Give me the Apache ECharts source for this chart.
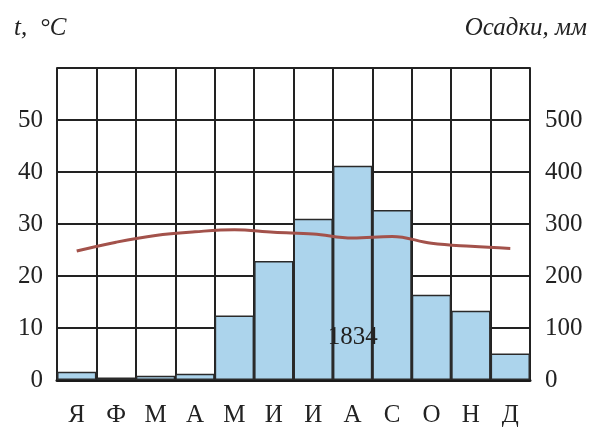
<!DOCTYPE html>
<html><head><meta charset="utf-8">
<script src="https://cdn.jsdelivr.net/npm/echarts@6/dist/echarts.min.js"></script>
<style>html,body{margin:0;padding:0;background:#fff}#c{width:592px;height:428px}</style>
</head><body><div id="c"></div>
<script>
const months = ['Я','Ф','М','А','М','И','И','А','С','О','Н','Д'];
const precip = [16, 5, 8, 12, 124, 229, 310, 412, 327, 164, 133, 51];
const temp = [24.8, 26.5, 27.8, 28.5, 28.9, 28.4, 28.1, 27.3, 27.6, 26.3, 25.7, 25.3];
const annualTotal = '1834';
const tempTicks = [0, 10, 20, 30, 40, 50];
const precipTicks = [0, 100, 200, 300, 400, 500];

const chart = echarts.init(document.getElementById('c'));
const font = '"Liberation Serif", "DejaVu Serif", serif';
chart.setOption({
  animation: false,
  grid: {left: 57, right: 62, top: 68, bottom: 48},
  xAxis: {
    type: 'category', data: months, boundaryGap: true,
    axisLine: {show: true, lineStyle: {color: '#1a1a1a', width: 3}},
    axisTick: {show: false},
    axisLabel: {fontFamily: font, fontSize: 25, color: '#222', margin: 23, interval: 0},
    splitLine: {show: true, interval: 0, lineStyle: {color: '#222', width: 2}}
  },
  yAxis: [{
    type: 'value', min: 0, max: 60, interval: 10,
    axisLine: {show: true, lineStyle: {color: '#222', width: 2}},
    axisTick: {show: false},
    axisLabel: {fontFamily: font, fontSize: 25, color: '#222', margin: 14,
      formatter: v => tempTicks.includes(v) ? String(v) : ''},
    splitLine: {show: true, lineStyle: {color: '#222', width: 2}}
  }, {
    type: 'value', min: 0, max: 600, interval: 100,
    axisLine: {show: true, lineStyle: {color: '#222', width: 2}},
    axisTick: {show: false},
    axisLabel: {fontFamily: font, fontSize: 25, color: '#222', margin: 15,
      formatter: v => precipTicks.includes(v) ? String(v) : ''},
    splitLine: {show: false}
  }],
  graphic: [
    {type: 'text', left: 14, top: 16, style: {text: 't,  °C', font: 'italic 25px ' + font, fill: '#222'}},
    {type: 'text', right: 5, top: 16, style: {text: 'Осадки, мм', font: 'italic 25px ' + font, fill: '#222'}}
  ],
  series: [{
    type: 'bar', yAxisIndex: 1, data: precip, barCategoryGap: '0%',
    itemStyle: {color: '#acd4ec', borderColor: '#2a2a2a', borderWidth: 1.5},
    markPoint: {
      symbol: 'rect', symbolSize: 0,
      label: {show: true, position: 'inside', formatter: annualTotal, fontFamily: font, fontSize: 25, color: '#222'},
      data: [{coord: [7, 82]}]
    }
  }, {
    type: 'line', yAxisIndex: 0, data: temp, smooth: 0.4, symbol: 'none',
    lineStyle: {color: '#a3524b', width: 3}
  }]
});
</script></body></html>
